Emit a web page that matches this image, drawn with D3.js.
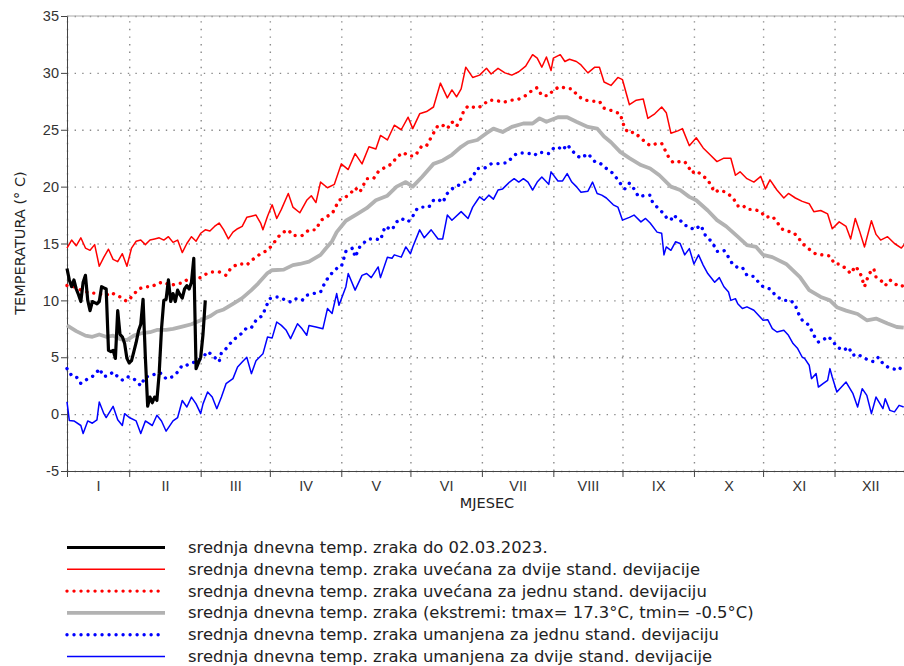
<!DOCTYPE html>
<html>
<head>
<meta charset="utf-8">
<script src="https://cdn.jsdelivr.net/npm/d3@7"></script>
<style>
  body { margin: 0; background: #fff; }
  svg { font-family: "DejaVu Sans", sans-serif; display: block; }
  .axis path, .axis line { stroke: #444; }
  .axis text { fill: #333; font-size: 14.5px; }
  .grid line { stroke: #8a8a8a; stroke-width: 1.4; stroke-dasharray: 1.4 6.2; }
  .grid path { display: none; }
  .legend text { font-size: 16.4px; fill: #222; }
</style>
</head>
<body>
<div id="chart"></div>
<script>
// month boundaries (day of year) as drawn on the original, roman month labels
var monthTicks = [0, 27, 58, 88, 119, 149, 180, 211, 241, 272, 302, 333, 364];
var months = ["I", "II", "III", "IV", "V", "VI", "VII", "VIII", "IX", "X", "XI", "XII"];
var yTicks = [-5, 0, 5, 10, 15, 20, 25, 30, 35];

// srednja dnevna temp. zraka do 02.03.2023. (one value per day from 1 Jan)
var observed = [
  12.8, 11.8, 11.2, 11.8, 11.0, 10.5, 9.9, 11.6, 12.2, 10.0,
  9.1, 9.9, 9.8, 9.7, 9.9, 11.2, 11.1, 11.0, 5.6, 5.5,
  5.6, 4.9, 9.1, 7.0, 6.8, 6.2, 4.9, 4.5, 4.7, 5.5,
  6.3, 7.3, 7.9, 10.1, 5.0, 0.7, 1.5, 1.0, 1.5, 1.2,
  3.6, 7.5, 10.0, 10.1, 11.8, 9.9, 10.6, 9.9, 10.9, 10.5,
  10.2, 11.0, 11.3, 11.0, 11.6, 13.7, 4.0, 4.5, 5.0, 7.0,
  10.0
];

// [day of year, temperature]
// uvecana za dvije stand. devijacije
var plus2sd = [
  [0,14.6],[2,15.3],[4,14.8],[6,15.5],[8,14.6],[10,14.4],[12,14.9],[14,13.0],[16,13.8],[18,14.5],
  [20,13.6],[22,13.4],[24,14.1],[26,13.0],[28,14.6],[30,15.2],[32,15.3],[34,14.9],[36,15.3],[38,15.4],
  [40,15.5],[42,15.3],[44,15.6],[46,15.1],[48,15.3],[50,14.2],[52,15.0],[54,15.6],[56,15.2],[58,15.9],
  [60,16.2],[62,16.1],[64,16.5],[66,16.8],[68,16.2],[70,15.4],[72,16.0],[74,16.3],[76,16.5],[78,17.3],
  [80,17.4],[82,17.5],[84,16.8],[85,16.2],[87,17.4],[89,18.4],[91,17.2],[93,18.0],[96,19.4],[98,18.2],
  [101,17.7],[104,18.8],[106,19.2],[108,18.6],[110,20.4],[113,19.9],[116,20.2],[119,22.0],[122,21.5],[125,22.9],
  [128,22.0],[131,23.5],[134,23.3],[136,24.5],[139,24.1],[142,25.4],[145,25.0],[148,26.1],[150,25.1],[153,26.4],
  [156,26.6],[159,27.0],[162,29.1],[165,27.8],[167,28.5],[169,27.9],[171,28.6],[173,30.5],[176,29.6],[179,29.8],
  [182,30.4],[184,29.9],[187,30.4],[190,30.0],[193,29.8],[196,30.1],[199,30.6],[202,31.6],[204,31.3],[206,30.5],
  [208,31.4],[210,30.2],[211,31.3],[214,31.6],[216,31.0],[218,31.2],[221,31.0],[223,30.7],[226,30.0],[229,30.5],
  [231,30.5],[233,29.2],[236,28.9],[239,29.6],[241,29.4],[244,27.2],[247,27.6],[250,27.7],[252,26.0],[255,26.4],
  [258,27.0],[260,26.5],[262,24.7],[265,24.9],[267,25.1],[270,23.6],[273,24.3],[276,23.4],[279,22.8],[282,22.2],
  [285,22.5],[288,22.5],[290,21.0],[292,21.3],[295,20.7],[298,20.4],[301,20.9],[303,19.8],[305,20.6],[308,19.7],
  [311,19.0],[313,19.4],[316,19.0],[319,18.7],[322,18.5],[324,17.8],[327,17.9],[330,17.6],[332,16.3],[335,16.9],
  [338,16.5],[340,15.4],[342,17.2],[344,16.0],[346,14.7],[349,17.0],[351,15.8],[353,15.3],[356,15.6],[359,15.0],
  [362,14.6],[364,15.1]
];

// uvecana za jednu stand. devijaciju
var plus1sd = [
  [0,11.3],[3,11.2],[6,10.9],[9,10.7],[13,10.6],[17,10.45],[19,10.7],[23,10.3],[26,9.9],[28,10.3],
  [31,11.0],[34,11.2],[37,11.2],[39,11.5],[42,11.6],[45,11.3],[48,11.5],[50,11.5],[52,11.8],[55,11.9],
  [58,12.0],[61,12.4],[63,12.5],[66,12.5],[69,12.2],[71,12.8],[74,13.2],[76,13.2],[78,13.1],[80,13.5],
  [82,13.8],[84,14.1],[87,14.4],[89,14.85],[91,15.4],[93,15.9],[96,16.2],[98,15.7],[102,15.7],[105,16.2],
  [108,16.2],[110,17.0],[112,17.3],[115,17.6],[118,18.8],[121,19.1],[123,19.4],[125,19.9],[127,19.5],[130,20.7],
  [133,20.7],[135,21.3],[138,21.7],[141,22.0],[143,22.6],[146,23.0],[148,22.7],[151,22.7],[154,23.6],[156,23.6],
  [159,24.7],[161,25.4],[163,25.4],[165,25.1],[167,25.7],[169,25.3],[171,26.0],[172,26.6],[174,27.1],[176,27.0],
  [178,26.9],[180,27.1],[183,27.6],[186,27.6],[189,27.4],[191,27.5],[193,27.6],[196,27.7],[199,28.0],[202,28.5],
  [204,28.7],[206,28.0],[209,28.0],[211,28.5],[214,28.8],[217,28.6],[219,28.6],[222,27.9],[225,27.6],[228,27.5],
  [231,27.5],[233,26.9],[236,26.7],[240,26.4],[242,25.1],[244,24.7],[246,24.8],[251,23.9],[253,23.6],[256,23.8],
  [258,23.8],[261,22.6],[263,22.1],[266,22.2],[268,22.2],[270,21.6],[271,21.2],[273,21.4],[278,20.6],[281,19.5],
  [283,19.7],[286,19.5],[289,19.0],[291,18.3],[293,18.4],[295,18.0],[298,18.0],[301,17.8],[303,17.3],[306,17.4],
  [308,16.9],[310,16.3],[312,16.1],[315,16.0],[317,15.6],[319,15.0],[322,14.5],[325,14.05],[328,14.0],[331,13.9],
  [333,13.2],[335,13.2],[338,12.8],[340,12.35],[342,13.0],[344,12.5],[346,11.2],[347,11.8],[348,12.35],[350,12.8],
  [351,12.05],[354,11.6],[355,11.3],[357,11.8],[359,11.5],[361,11.2],[363,11.3]
];

// srednja dnevna temp. zraka
var mean = [
  [0,7.8],[4,7.3],[8,6.9],[11,6.8],[14,7.0],[17,6.8],[20,6.9],[23,6.6],[26,6.5],[29,6.9],
  [32,7.1],[36,7.2],[39,7.4],[43,7.4],[46,7.5],[50,7.7],[54,7.9],[58,8.25],[62,8.6],[65,9.0],
  [68,9.2],[72,9.7],[76,10.2],[80,10.9],[83,11.5],[87,12.4],[89,12.65],[94,12.7],[98,13.1],[101,13.2],
  [105,13.4],[110,14.0],[112,14.5],[115,15.2],[117,16.0],[121,17.0],[126,17.6],[130,18.1],[134,18.8],[139,19.2],
  [143,20.0],[147,20.4],[150,20.0],[154,20.85],[159,22.0],[163,22.3],[167,22.8],[171,23.5],[174,23.9],[178,24.1],
  [182,24.7],[185,25.1],[189,24.8],[193,25.25],[198,25.55],[202,25.55],[205,26.0],[208,25.7],[213,26.1],[217,26.1],
  [221,25.7],[226,25.25],[230,25.1],[233,24.4],[236,23.9],[240,23.05],[244,22.5],[249,21.9],[253,21.6],[257,21.0],
  [262,20.0],[266,19.7],[270,19.1],[273,18.8],[278,17.9],[282,17.05],[286,16.5],[291,15.6],[295,14.85],[299,14.7],
  [302,14.0],[306,13.8],[312,13.2],[318,12.05],[322,10.9],[327,10.3],[331,10.0],[334,9.4],[338,9.1],[343,8.8],
  [347,8.25],[351,8.4],[356,7.96],[360,7.66],[363,7.6]
];

// umanjena za jednu stand. devijaciju
var minus1sd = [
  [0,4.0],[2,3.4],[4,3.3],[6,2.7],[9,3.1],[11,3.3],[13,3.7],[14,4.0],[16,3.3],[18,3.4],
  [20,3.7],[22,3.3],[24,3.0],[26,3.3],[29,3.1],[32,2.5],[34,3.3],[36,3.3],[39,3.6],[41,3.6],
  [43,3.1],[46,3.3],[48,3.7],[50,4.3],[52,4.3],[54,4.5],[56,4.6],[59,5.0],[61,5.5],[63,5.2],
  [66,4.6],[67,5.4],[69,5.76],[72,6.5],[74,6.8],[76,7.13],[78,7.6],[80,7.6],[82,8.25],[85,8.7],
  [86,9.3],[88,10.15],[90,10.3],[92,10.3],[95,10.0],[97,9.86],[99,10.15],[102,10.0],[104,10.45],[107,10.6],
  [110,10.74],[112,11.6],[114,12.2],[117,12.8],[119,12.95],[121,14.3],[124,14.6],[125,13.8],[127,14.7],[129,15.1],
  [131,15.4],[134,15.4],[136,15.3],[138,16.5],[141,16.2],[143,16.9],[145,17.2],[148,16.9],[150,17.4],[152,18.1],
  [154,18.2],[157,18.2],[159,18.8],[161,18.9],[163,18.6],[165,19.4],[167,19.8],[169,20.0],[172,20.4],[174,20.4],
  [176,20.85],[178,21.6],[181,21.6],[184,22.0],[186,22.0],[188,22.05],[191,22.1],[194,22.76],[196,22.96],[198,22.96],
  [201,22.9],[203,22.76],[204,23.0],[207,23.0],[209,22.9],[211,23.35],[213,23.5],[215,23.2],[217,23.7],[219,23.2],
  [221,22.76],[223,22.5],[226,22.9],[229,22.2],[231,22.1],[234,21.6],[237,21.15],[240,20.3],[242,19.8],[244,20.3],
  [246,19.8],[248,19.1],[250,19.2],[253,19.25],[254,18.65],[256,18.2],[259,17.6],[260,17.3],[262,17.05],[263,17.5],
  [266,17.05],[268,16.6],[270,16.5],[272,16.2],[275,16.6],[277,15.7],[280,15.1],[282,14.3],[285,14.4],[287,13.8],
  [289,13.1],[291,12.9],[293,12.9],[295,12.2],[298,12.1],[300,11.6],[302,11.2],[305,11.0],[308,10.3],[311,10.0],
  [314,10.0],[316,9.57],[317,8.98],[319,8.25],[322,7.8],[324,6.93],[326,6.34],[328,6.5],[330,6.84],[332,6.5],
  [334,5.9],[337,5.6],[339,5.9],[341,5.17],[343,5.3],[345,5.0],[348,4.73],[350,4.6],[352,5.0],[354,4.44],
  [356,4.15],[358,4.0],[361,3.87],[362,4.2]
];

// umanjena za dvije stand. devijacije
var minus2sd = [
  [0,1.07],[1,-0.55],[3,-0.6],[6,-1.0],[7,-1.7],[9,-0.6],[11,-0.8],[13,-0.5],[14,1.07],[16,0.04],
  [17,-0.3],[20,0.69],[22,-0.5],[24,-1.0],[25,0.04],[27,-0.3],[30,-0.6],[32,-1.7],[34,-0.6],[37,-1.0],
  [39,-0.1],[41,-0.6],[43,-1.5],[46,-0.6],[48,-0.3],[50,1.2],[52,0.63],[54,1.5],[56,0.9],[58,0.04],
  [59,0.9],[61,1.95],[63,1.5],[65,0.48],[67,1.5],[69,2.68],[72,3.12],[74,4.14],[76,4.58],[78,5.0],
  [80,3.56],[82,4.7],[85,5.3],[87,6.78],[89,6.7],[91,8.1],[93,7.8],[95,7.4],[97,6.64],[100,7.95],
  [102,7.5],[104,6.93],[105,7.8],[108,7.66],[111,7.5],[113,9.28],[115,8.85],[117,10.6],[118,9.57],[121,11.2],
  [122,12.36],[125,10.9],[128,12.2],[130,12.36],[132,12.0],[135,12.94],[136,12.0],[139,13.8],[141,13.7],[142,14.0],
  [145,13.8],[147,14.7],[149,14.1],[150,14.7],[153,16.2],[155,15.5],[158,16.2],[161,15.4],[163,15.4],[165,17.5],
  [167,17.05],[171,17.8],[174,17.2],[176,18.2],[178,18.8],[179,19.1],[181,18.8],[183,19.25],[185,18.9],[187,19.7],
  [189,19.8],[192,20.4],[194,20.7],[196,20.4],[198,20.7],[200,20.4],[202,19.7],[204,20.4],[206,20.85],[209,20.2],
  [210,21.3],[213,20.5],[215,20.5],[217,21.15],[219,20.4],[221,20.0],[223,19.5],[226,19.6],[228,20.4],[230,19.4],
  [232,19.25],[234,19.0],[237,18.4],[239,18.2],[241,17.05],[244,17.3],[246,17.5],[249,16.9],[251,17.2],[253,16.8],
  [256,16.0],[258,15.9],[259,14.0],[260,14.7],[262,14.4],[264,15.15],[266,15.0],[268,14.0],[270,14.55],[272,13.2],
  [274,14.0],[276,13.1],[278,12.36],[281,11.6],[283,12.0],[285,11.2],[287,10.74],[288,10.0],[290,10.15],[291,9.7],
  [293,9.28],[295,9.43],[298,9.13],[300,8.7],[302,8.25],[304,8.3],[306,7.52],[308,7.22],[311,7.37],[313,6.93],
  [315,6.2],[317,5.76],[319,5.0],[320,4.9],[322,4.3],[323,3.12],[325,3.56],[326,2.38],[328,2.68],[330,2.97],
  [331,4.0],[332,3.27],[334,1.95],[336,2.38],[338,2.82],[341,1.8],[343,0.63],[345,2.24],[347,1.65],[349,0.04],
  [351,1.5],[354,0.48],[355,1.36],[357,0.33],[359,0.2],[361,0.77],[363,0.63]
];

var legendLabels = [
  "srednja dnevna temp. zraka do 02.03.2023.",
  "srednja dnevna temp. zraka uvećana za dvije stand. devijacije",
  "srednja dnevna temp. zraka uvećana za jednu stand. devijaciju",
  "srednja dnevna temp. zraka (ekstremi: tmax= 17.3°C, tmin= -0.5°C)",
  "srednja dnevna temp. zraka umanjena za jednu stand. devijaciju",
  "srednja dnevna temp. zraka umanjena za dvije stand. devijacije"
];

var width = 904;
var height = 666;
var plotLeft = 67, plotRight = 906, plotTop = 16, plotBottom = 471;

var styles = [
  {color: "#000", width: 3.2, dash: null},
  {color: "#ff0000", width: 1.5, dash: null},
  {color: "#ff0000", width: 3.4, dash: "0.01 7"},
  {color: "#b2b2b2", width: 3.8, dash: null},
  {color: "#0000ff", width: 3.4, dash: "0.01 7"},
  {color: "#0000ff", width: 1.5, dash: null}
];

/* Scale */
var xScale = d3.scaleLinear().domain([0, 364]).range([plotLeft, plotRight]);
var yScale = d3.scaleLinear().domain([-5, 35]).range([plotBottom, plotTop]);

var svg = d3.select("#chart").append("svg")
  .attr("width", width)
  .attr("height", height);

/* Grid */
svg.append("g")
  .attr("class", "grid")
  .attr("transform", `translate(0, ${plotBottom})`)
  .call(d3.axisBottom(xScale).tickValues(monthTicks).tickSize(-(plotBottom - plotTop)).tickFormat(""));

svg.append("g")
  .attr("class", "grid")
  .attr("transform", `translate(${plotLeft}, 0)`)
  .call(d3.axisLeft(yScale).tickValues(yTicks).tickSize(-(plotRight - plotLeft)).tickFormat(""));

// top frame line
svg.append("line")
  .attr("x1", plotLeft).attr("x2", plotRight)
  .attr("y1", plotTop).attr("y2", plotTop)
  .attr("stroke", "#aaa").attr("stroke-width", 1);

/* Axes */
svg.append("g")
  .attr("class", "y axis")
  .attr("transform", `translate(${plotLeft}, 0)`)
  .call(d3.axisLeft(yScale).tickValues(yTicks).tickSize(6).tickSizeOuter(0).tickPadding(2).tickFormat(d => String(d)));

svg.append("g")
  .attr("class", "x axis")
  .attr("transform", `translate(0, ${plotBottom})`)
  .call(d3.axisBottom(xScale).tickValues(monthTicks).tickSize(6).tickSizeOuter(0).tickFormat(""));

// month names in the middle of each month
var mids = months.map((m, i) => (monthTicks[i] + monthTicks[i + 1]) / 2);
svg.append("g")
  .attr("class", "x axis labels")
  .attr("transform", `translate(0, ${plotBottom})`)
  .call(d3.axisBottom(xScale).tickValues(mids).tickSize(0).tickPadding(10).tickFormat((d, i) => months[i]))
  .call(g => g.select(".domain").remove());

svg.append("text")
  .attr("x", 487).attr("y", 508)
  .attr("text-anchor", "middle")
  .attr("fill", "#222")
  .style("font-size", "14.5px")
  .text("MJESEC");

svg.append("text")
  .attr("transform", `translate(25, 243) rotate(-90)`)
  .attr("text-anchor", "middle")
  .attr("fill", "#222")
  .style("font-size", "14.5px")
  .text("TEMPERATURA (° C)");

/* Lines */
var line = d3.line()
  .x(d => xScale(d[0]))
  .y(d => yScale(d[1]));

var series = [
  {data: plus2sd, style: styles[1]},
  {data: plus1sd, style: styles[2]},
  {data: mean, style: styles[3]},
  {data: minus1sd, style: styles[4]},
  {data: minus2sd, style: styles[5]},
  {data: observed.map((v, i) => [i, v]), style: styles[0]}
];

svg.append("g")
  .attr("class", "lines")
  .selectAll("path")
  .data(series).enter()
  .append("path")
  .attr("d", d => line(d.data))
  .attr("fill", "none")
  .attr("stroke", d => d.style.color)
  .attr("stroke-width", d => d.style.width)
  .attr("stroke-dasharray", d => d.style.dash)
  .attr("stroke-linecap", d => d.style.dash ? "round" : "butt")
  .attr("stroke-linejoin", "round");

/* Legend */
var legend = svg.append("g").attr("class", "legend");
var rows = legend.selectAll("g")
  .data(legendLabels).enter()
  .append("g")
  .attr("transform", (d, i) => `translate(0, ${547.5 + i * 21.8})`);

rows.append("line")
  .attr("x1", 67).attr("x2", 165)
  .attr("stroke", (d, i) => styles[i].color)
  .attr("stroke-width", (d, i) => styles[i].width)
  .attr("stroke-dasharray", (d, i) => styles[i].dash)
  .attr("stroke-linecap", (d, i) => styles[i].dash ? "round" : "butt");

rows.append("text")
  .attr("x", 188)
  .attr("y", 5.5)
  .text(d => d);
</script>
</body>
</html>
